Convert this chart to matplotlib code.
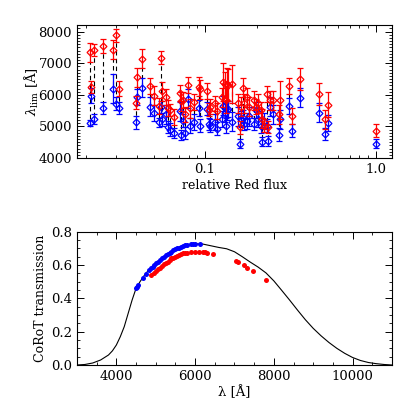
import numpy as np
import matplotlib
matplotlib.use('Agg')
from matplotlib import pyplot as plt
from matplotlib.ticker import MultipleLocator, FixedLocator, NullFormatter, FormatStrFormatter

plt.rcParams['font.family'] = ['DejaVu Serif']
plt.rcParams['mathtext.fontset'] = 'dejavuserif'

# top panel: relative Red flux vs lambda_lim (red and blue estimates)
rel_flux = [0.0212, 0.0215, 0.0224, 0.0253, 0.0290, 0.0302, 0.0314, 0.0395, 0.0400, 0.0428,
            0.0477, 0.0503, 0.0538, 0.0553, 0.0561, 0.0592, 0.0608, 0.0624, 0.0659, 0.0714,
            0.0724, 0.0743, 0.0764, 0.0796, 0.0817, 0.0863, 0.0923, 0.0935, 0.1027, 0.1055,
            0.107, 0.1144, 0.1175, 0.1257, 0.1274, 0.131, 0.1327, 0.1345, 0.1364, 0.144,
            0.156, 0.160, 0.1625, 0.1668, 0.169, 0.176, 0.181, 0.1935, 0.199, 0.204,
            0.2125, 0.2155, 0.221, 0.2306, 0.2335, 0.240, 0.250, 0.271, 0.275, 0.310,
            0.323, 0.360, 0.465, 0.503, 0.524, 1.0]
lam_red = [7350, 6250, 7420, 7540, 7420, 7880, 6200, 5750, 6550, 7150,
           6280, 5980, 5650, 7180, 6120, 5930, 5580, 5520, 5290, 6050,
           5800, 5830, 5380, 6300, 5580, 5780, 6250, 6180, 6130, 5530,
           5630, 5730, 5480, 5930, 6400, 6330, 5830, 6350, 6320, 6350,
           5730, 4970, 5630, 6230, 5730, 5930, 5630, 5830, 5630, 5730,
           5530, 5250, 5030, 6030, 4980, 5830, 5830, 5380, 5830, 6280,
           5330, 6510, 6040, 5230, 5690, 4870]
err_red = [300, 200, 200, 230, 300, 200, 250, 200, 300, 300,
           250, 300, 250, 200, 300, 250, 250, 200, 250, 250,
           300, 250, 250, 250, 300, 250, 300, 300, 250, 200,
           250, 250, 250, 300, 600, 400, 400, 500, 500, 600,
           300, 200, 300, 300, 300, 300, 300, 300, 250, 300,
           250, 300, 200, 250, 200, 300, 300, 300, 600, 250,
           250, 350, 350, 300, 400, 200]
lam_blue = [5120, 5980, 5230, 5580, 6200, 5720, 5580, 5130, 5930, 6220,
            5620, 5420, 5130, 5620, 5230, 5380, 4980, 4900, 4790, 5480,
            4730, 5180, 4790, 5880, 5030, 5130, 5580, 5030, 5560, 5080,
            5030, 5130, 4930, 5230, 5650, 5430, 5030, 5520, 5550, 5150,
            5330, 4460, 5230, 5280, 5080, 5180, 5330, 5080, 5530, 5230,
            5030, 4520, 5180, 5030, 4540, 5630, 5380, 4740, 5230, 5650,
            4870, 5910, 5440, 4760, 5110, 4460]
err_blue = [100, 250, 150, 200, 450, 200, 200, 200, 250, 300,
            300, 250, 150, 200, 200, 300, 200, 200, 150, 300,
            150, 200, 200, 300, 250, 250, 250, 200, 200, 200,
            200, 250, 200, 250, 300, 300, 250, 300, 250, 300,
            300, 150, 250, 250, 200, 250, 300, 200, 250, 250,
            250, 150, 250, 200, 150, 300, 300, 200, 300, 250,
            200, 300, 300, 200, 250, 150]

# bottom panel: CoRoT transmission curve
curve_lam = [3000, 3200, 3400, 3600, 3800, 3900, 4000, 4100, 4200, 4300,
             4400, 4500, 4600, 4700, 4800, 4900, 5000, 5200, 5400, 5600,
             5800, 6000, 6200, 6400, 6600, 6800, 7000, 7200, 7400, 7600,
             7800, 8000, 8200, 8400, 8600, 8800, 9000, 9200, 9400, 9600,
             9800, 10000, 10200, 10400, 10600, 10800, 11000]
curve_trans = [0.0, 0.003, 0.012, 0.03, 0.06, 0.085, 0.12, 0.17, 0.23, 0.31,
               0.39, 0.46, 0.50, 0.535, 0.565, 0.59, 0.61, 0.65, 0.68, 0.705,
               0.72, 0.728, 0.726, 0.716, 0.706, 0.698, 0.68, 0.65, 0.618, 0.588,
               0.553, 0.505, 0.448, 0.39, 0.33, 0.272, 0.22, 0.175, 0.135, 0.10,
               0.07, 0.045, 0.027, 0.015, 0.008, 0.003, 0.0]

blue_lam = [4500, 4530, 4560, 4680, 4750, 4830, 4880, 4920, 4960, 5000,
            5050, 5100, 5150, 5200, 5250, 5300, 5350, 5400, 5450, 5500,
            5550, 5600, 5650, 5700, 5750, 5800, 5900, 5950, 6000, 6130]
blue_trans = [0.46, 0.47, 0.48, 0.52, 0.545, 0.57, 0.58, 0.59, 0.60, 0.61,
              0.62, 0.63, 0.64, 0.65, 0.66, 0.665, 0.675, 0.68, 0.69, 0.695,
              0.70, 0.705, 0.71, 0.715, 0.72, 0.722, 0.725, 0.727, 0.727, 0.725]
red_lam = [4880, 4950, 5000, 5050, 5100, 5150, 5200, 5250, 5300, 5350,
           5400, 5450, 5500, 5550, 5600, 5650, 5700, 5750, 5800, 5900,
           6000, 6100, 6200, 6250, 6300, 6450, 7050, 7100, 7250, 7330, 7460, 7790]
red_trans = [0.54, 0.55, 0.565, 0.575, 0.585, 0.595, 0.605, 0.615, 0.62, 0.63,
             0.64, 0.645, 0.65, 0.655, 0.66, 0.665, 0.67, 0.672, 0.675, 0.678,
             0.68, 0.68, 0.678, 0.676, 0.674, 0.668, 0.625, 0.62, 0.598, 0.585, 0.565, 0.51]


def style_axes(ax):
    ax.tick_params(which='both', direction='in', top=True, right=True, labelsize=9.5)
    ax.tick_params(which='major', length=5, width=0.7)
    ax.tick_params(which='minor', length=2.5, width=0.6)
    for s in ax.spines.values():
        s.set_linewidth(0.8)


fig = plt.figure(figsize=(4.15, 4.15), dpi=100)

# top panel
ax1 = fig.add_axes([0.1855, 0.619, 0.759, 0.320])
for x, r, b in zip(rel_flux, lam_red, lam_blue):
    ax1.plot([x, x], [r, b], color='black', ls=(0, (4, 3)), lw=0.8, zorder=1)
ax1.errorbar(rel_flux, lam_blue, yerr=err_blue, fmt='D', ms=3.5, mfc='none', mec='blue',
             mew=0.9, ecolor='blue', elinewidth=0.9, capsize=2, zorder=2)
ax1.errorbar(rel_flux, lam_red, yerr=err_red, fmt='D', ms=3.5, mfc='none', mec='red',
             mew=0.9, ecolor='red', elinewidth=0.9, capsize=2, zorder=3)
ax1.set_xscale('log')
ax1.set_xlim(0.0178, 1.24)
ax1.set_ylim(4000, 8200)
ax1.xaxis.set_major_locator(FixedLocator([0.1, 1.0]))
ax1.xaxis.set_major_formatter(FormatStrFormatter('%.1f'))
ax1.xaxis.set_minor_formatter(NullFormatter())
ax1.yaxis.set_major_locator(MultipleLocator(1000))
ax1.yaxis.set_minor_locator(MultipleLocator(100))
style_axes(ax1)
ax1.set_xlabel('relative Red flux', fontsize=9, labelpad=2)
ax1.set_ylabel(r'$\lambda_{\rm lim}$ [Å]', fontsize=9.5, labelpad=-2)

# bottom panel
ax2 = fig.add_axes([0.1855, 0.1205, 0.759, 0.321])
ax2.plot(curve_lam, curve_trans, color='black', lw=0.8, zorder=1)
ax2.plot(blue_lam, blue_trans, 'o', color='blue', ms=3.6, mew=0, zorder=2)
ax2.plot(red_lam, red_trans, 'o', color='red', ms=3.6, mew=0, zorder=2)
ax2.set_xlim(3000, 11000)
ax2.set_ylim(0, 0.8)
ax2.xaxis.set_major_locator(MultipleLocator(2000))
ax2.xaxis.set_minor_locator(MultipleLocator(500))
ax2.yaxis.set_major_locator(MultipleLocator(0.2))
ax2.yaxis.set_minor_locator(MultipleLocator(0.05))
ax2.yaxis.set_major_formatter(FormatStrFormatter('%.1f'))
style_axes(ax2)
ax2.set_xlabel('λ [Å]', fontsize=9.5, labelpad=2)
ax2.set_ylabel('CoRoT transmission', fontsize=9, labelpad=3)

fig.savefig('out.png', dpi=100)
